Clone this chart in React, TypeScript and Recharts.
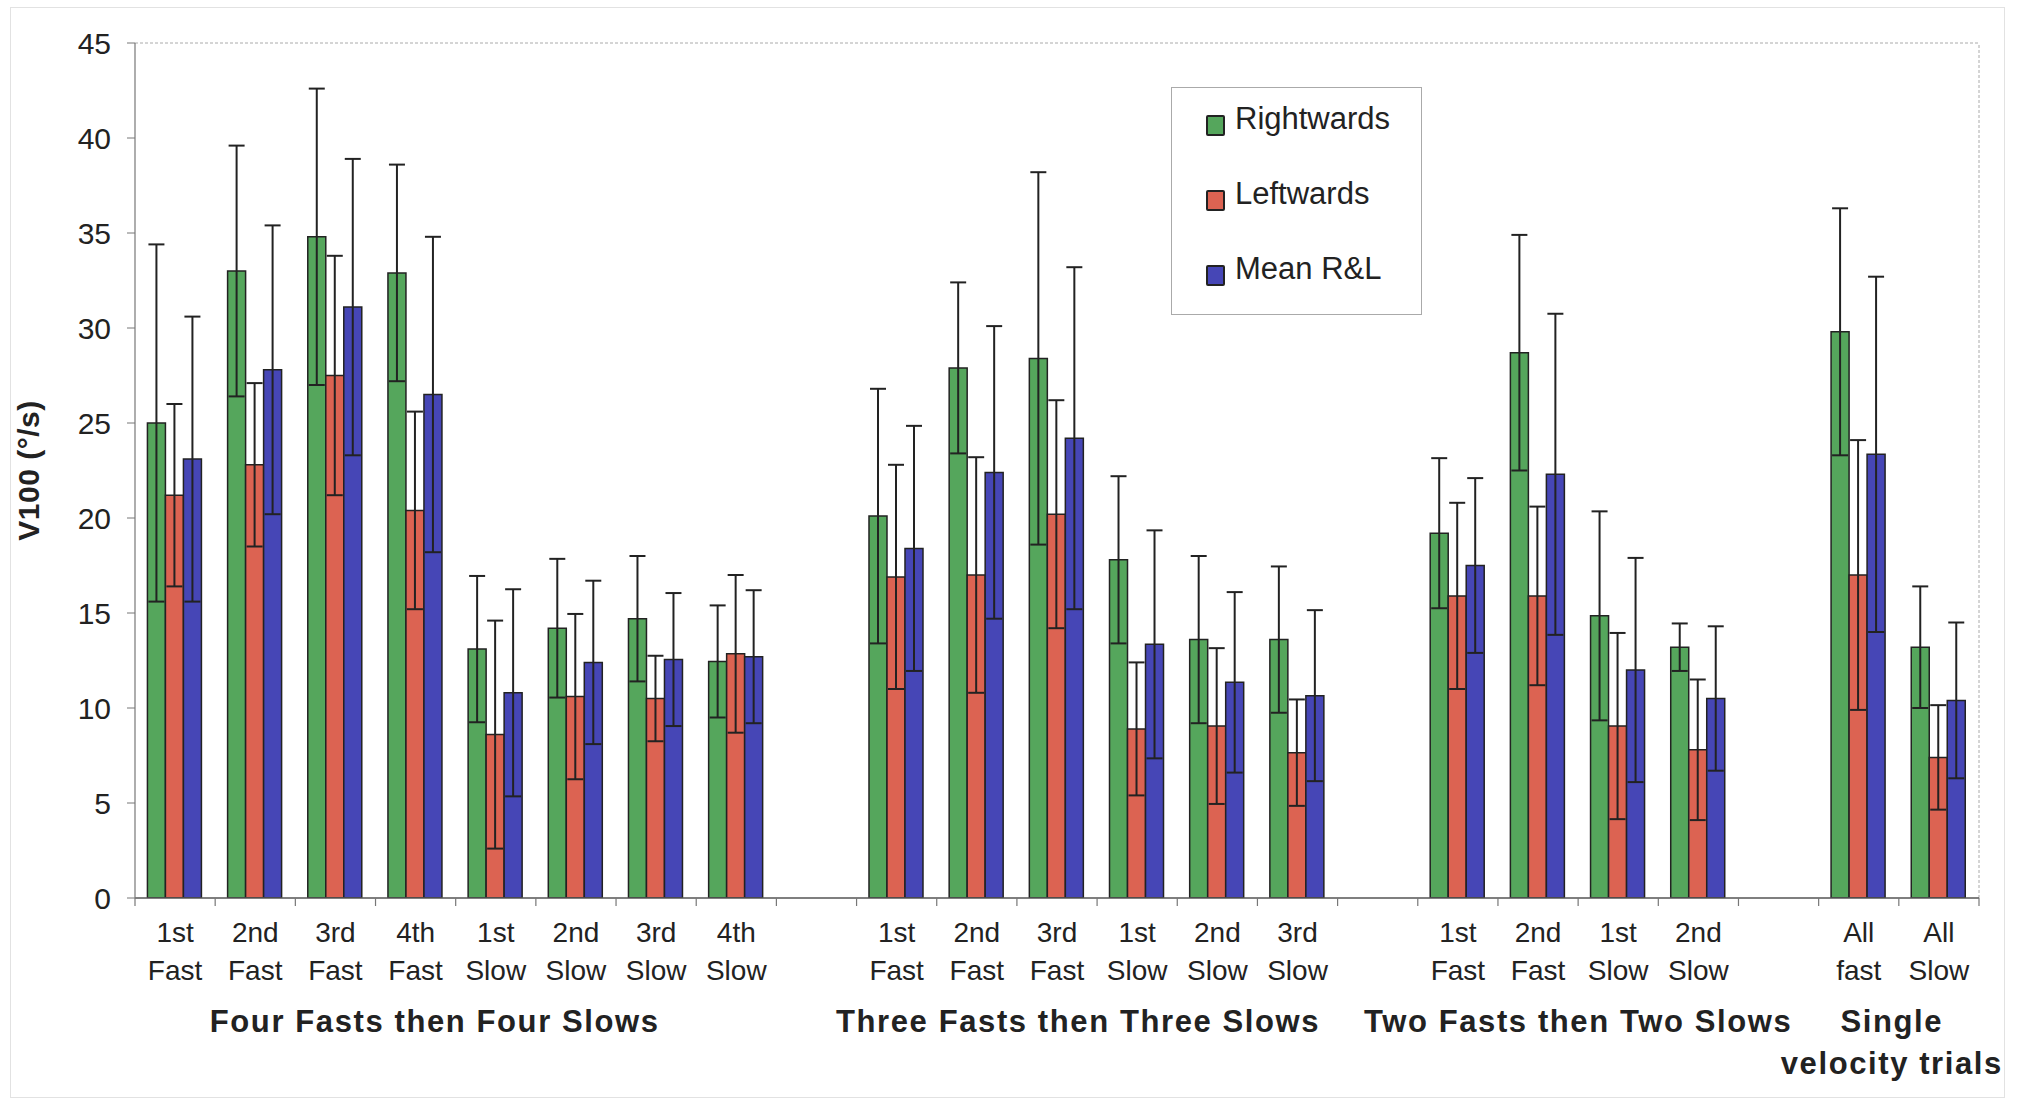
import React from 'react';
import { BarChart, Bar, XAxis, YAxis, ErrorBar, ReferenceLine, Legend } from 'recharts';

// x categories (two-line tick labels), '' = spacer slot between blocks
const TICK_TOP = ['1st', '2nd', '3rd', '4th', '1st', '2nd', '3rd', '4th', '', '1st', '2nd', '3rd', '1st', '2nd', '3rd', '', '1st', '2nd', '1st', '2nd', '', 'All', 'All'];
const TICK_BOTTOM = ['Fast', 'Fast', 'Fast', 'Fast', 'Slow', 'Slow', 'Slow', 'Slow', '', 'Fast', 'Fast', 'Fast', 'Slow', 'Slow', 'Slow', '', 'Fast', 'Fast', 'Slow', 'Slow', '', 'fast', 'Slow'];

const GROUP_NAMES = [['Four Fasts then Four Slows'], ['Three Fasts then Three Slows'], ['Two Fasts then Two Slows'], ['Single', 'velocity trials']];
const GROUP_FROM = [0, 9, 16, 21];
const GROUP_TO = [7, 14, 19, 22];

const SERIES = ['Rightwards', 'Leftwards', 'Mean R&L'];

const RIGHT = [25.0, 33.0, 34.8, 32.9, 13.1, 14.2, 14.7, 12.45, null, 20.1, 27.9, 28.4, 17.8, 13.6, 13.6, null, 19.2, 28.7, 14.85, 13.2, null, 29.8, 13.2];
const RIGHT_SD = [9.4, 6.6, 7.8, 5.7, 3.85, 3.65, 3.3, 2.95, null, 6.7, 4.5, 9.8, 4.4, 4.4, 3.85, null, 3.95, 6.2, 5.5, 1.25, null, 6.5, 3.2];
const LEFT = [21.2, 22.8, 27.5, 20.4, 8.6, 10.6, 10.5, 12.85, null, 16.9, 17.0, 20.2, 8.9, 9.05, 7.65, null, 15.9, 15.9, 9.05, 7.8, null, 17.0, 7.4];
const LEFT_SD = [4.8, 4.3, 6.3, 5.2, 6.0, 4.35, 2.25, 4.15, null, 5.9, 6.2, 6.0, 3.5, 4.1, 2.8, null, 4.9, 4.7, 4.9, 3.7, null, 7.1, 2.75];
const MEAN = [23.1, 27.8, 31.1, 26.5, 10.8, 12.4, 12.55, 12.7, null, 18.4, 22.4, 24.2, 13.35, 11.35, 10.65, null, 17.5, 22.3, 12.0, 10.5, null, 23.35, 10.4];
const MEAN_SD = [7.5, 7.6, 7.8, 8.3, 5.45, 4.3, 3.5, 3.5, null, 6.45, 7.7, 9.0, 6.0, 4.75, 4.5, null, 4.6, 8.45, 5.9, 3.8, null, 9.35, 4.1];

const Y_TICKS = [0, 5, 10, 15, 20, 25, 30, 35, 40, 45];

const data = TICK_TOP.map((_, i) => ({
  key: 'c' + i,
  right: RIGHT[i],
  rightSd: RIGHT_SD[i],
  left: LEFT[i],
  leftSd: LEFT_SD[i],
  mean: MEAN[i],
  meanSd: MEAN_SD[i],
}));

// layout
const W = 2018;
const H = 1101;
const M = { top: 43, right: 39, bottom: 0, left: 0 };
const Y_W = 135;
const X_H = 203;
const PLOT_W = W - M.left - M.right - Y_W;
const BAND = PLOT_W / TICK_TOP.length;
const AXIS_Y = H - M.bottom - X_H;
const GROUP_DX = [-21, -19, 0, -7];
const FONT = '"Liberation Sans", Arial, sans-serif';

const XTick = (props: any) => {
  const { x, payload } = props;
  const i = payload.index;
  const g = GROUP_FROM.indexOf(i);
  return (
    <g>
      <line x1={x - BAND / 2} x2={x - BAND / 2} y1={AXIS_Y} y2={AXIS_Y + 8} stroke="#777" strokeWidth={1.2} />
      {i === TICK_TOP.length - 1 && (
        <line x1={x + BAND / 2} x2={x + BAND / 2} y1={AXIS_Y} y2={AXIS_Y + 8} stroke="#777" strokeWidth={1.2} />
      )}
      <text x={x} y={AXIS_Y + 44} textAnchor="middle" fontSize={28} fill="#222" fontFamily={FONT}>{TICK_TOP[i]}</text>
      <text x={x} y={AXIS_Y + 82} textAnchor="middle" fontSize={28} fill="#222" fontFamily={FONT}>{TICK_BOTTOM[i]}</text>
      {g >= 0 && GROUP_NAMES[g].map((line, k) => (
        <text
          key={k}
          x={x - BAND / 2 + ((GROUP_TO[g] - GROUP_FROM[g] + 1) * BAND) / 2 + GROUP_DX[g]}
          y={AXIS_Y + 134 + k * 42}
          textAnchor="middle"
          fontSize={31}
          fontWeight="bold"
          letterSpacing={1.6}
          fill="#222"
          fontFamily={FONT}
        >
          {line}
        </text>
      ))}
    </g>
  );
};

const YLabel = (props: any) => {
  const { viewBox } = props;
  const cy = viewBox.y + viewBox.height / 2;
  return (
    <text x={28} y={cy} transform={`rotate(-90, 28, ${cy})`} textAnchor="middle" dominantBaseline="central"
      fontSize={30} fontWeight="bold" fill="#222" fontFamily={FONT} letterSpacing={0.5}>
      V100 (°/s)
    </text>
  );
};

const renderLegend = (props: any) => {
  const items = [...(props.payload || [])].sort((a: any, b: any) => SERIES.indexOf(a.value) - SERIES.indexOf(b.value));
  return (
    <div style={{ position: 'relative', width: 251, height: 228, boxSizing: 'border-box', border: '1.5px solid #aaa', background: '#fff', fontFamily: FONT }}>
      {items.map((entry: any, idx: number) => (
        <div key={idx} style={{ position: 'absolute', left: 34, top: 11 + idx * 75, height: 40, display: 'flex', alignItems: 'center' }}>
          <span style={{ display: 'inline-block', width: 15, height: 17, background: entry.color, border: '2px solid #222', borderRadius: 2, marginRight: 10, marginTop: 12 }} />
          <span style={{ fontSize: 31, color: '#222', whiteSpace: 'nowrap' }}>{entry.value}</span>
        </div>
      ))}
    </div>
  );
};

export default function App() {
  return (
    <div style={{ position: 'absolute', left: 0, top: 0, width: W, height: H, background: '#fff' }}>
      <div style={{ position: 'absolute', left: 10, top: 7, width: 1995, height: 1091, border: '1px solid #e2e2e2', boxSizing: 'border-box' }} />
      <BarChart width={W} height={H} data={data} margin={M} barCategoryGap="15.5%" barGap={0}>
        <XAxis dataKey="key" interval={0} height={X_H} tick={<XTick />} tickLine={false} axisLine={{ stroke: '#555', strokeWidth: 1.5 }} />
        <YAxis
          width={Y_W}
          domain={[0, 45]}
          ticks={Y_TICKS}
          interval={0}
          allowDataOverflow
          tick={{ fontSize: 30, fill: '#222', fontFamily: FONT }}
          tickSize={8}
          tickMargin={16}
          tickLine={{ stroke: '#777' }}
          axisLine={{ stroke: '#777', strokeWidth: 1.2 }}
          label={<YLabel />}
        />
        <ReferenceLine y={45} stroke="#aaa" strokeDasharray="3 2" />
        <ReferenceLine x={'c' + (TICK_TOP.length - 1)} position="end" stroke="#aaa" strokeDasharray="3 2" />
        <Legend
          layout="vertical"
          align="center"
          verticalAlign="middle"
          content={renderLegend}
          wrapperStyle={{ position: 'absolute', left: 1171, top: 87, width: 251, height: 228 }}
        />
        <Bar dataKey="right" name="Rightwards" fill="#55a65c" stroke="#222" strokeWidth={1.5} isAnimationActive={false}>
          <ErrorBar dataKey="rightSd" width={8} stroke="#222" strokeWidth={2} direction="y" />
        </Bar>
        <Bar dataKey="left" name="Leftwards" fill="#dc6352" stroke="#222" strokeWidth={1.5} isAnimationActive={false}>
          <ErrorBar dataKey="leftSd" width={8} stroke="#222" strokeWidth={2} direction="y" />
        </Bar>
        <Bar dataKey="mean" name="Mean R&L" fill="#4646b6" stroke="#222" strokeWidth={1.5} isAnimationActive={false}>
          <ErrorBar dataKey="meanSd" width={8} stroke="#222" strokeWidth={2} direction="y" />
        </Bar>
      </BarChart>
    </div>
  );
}
